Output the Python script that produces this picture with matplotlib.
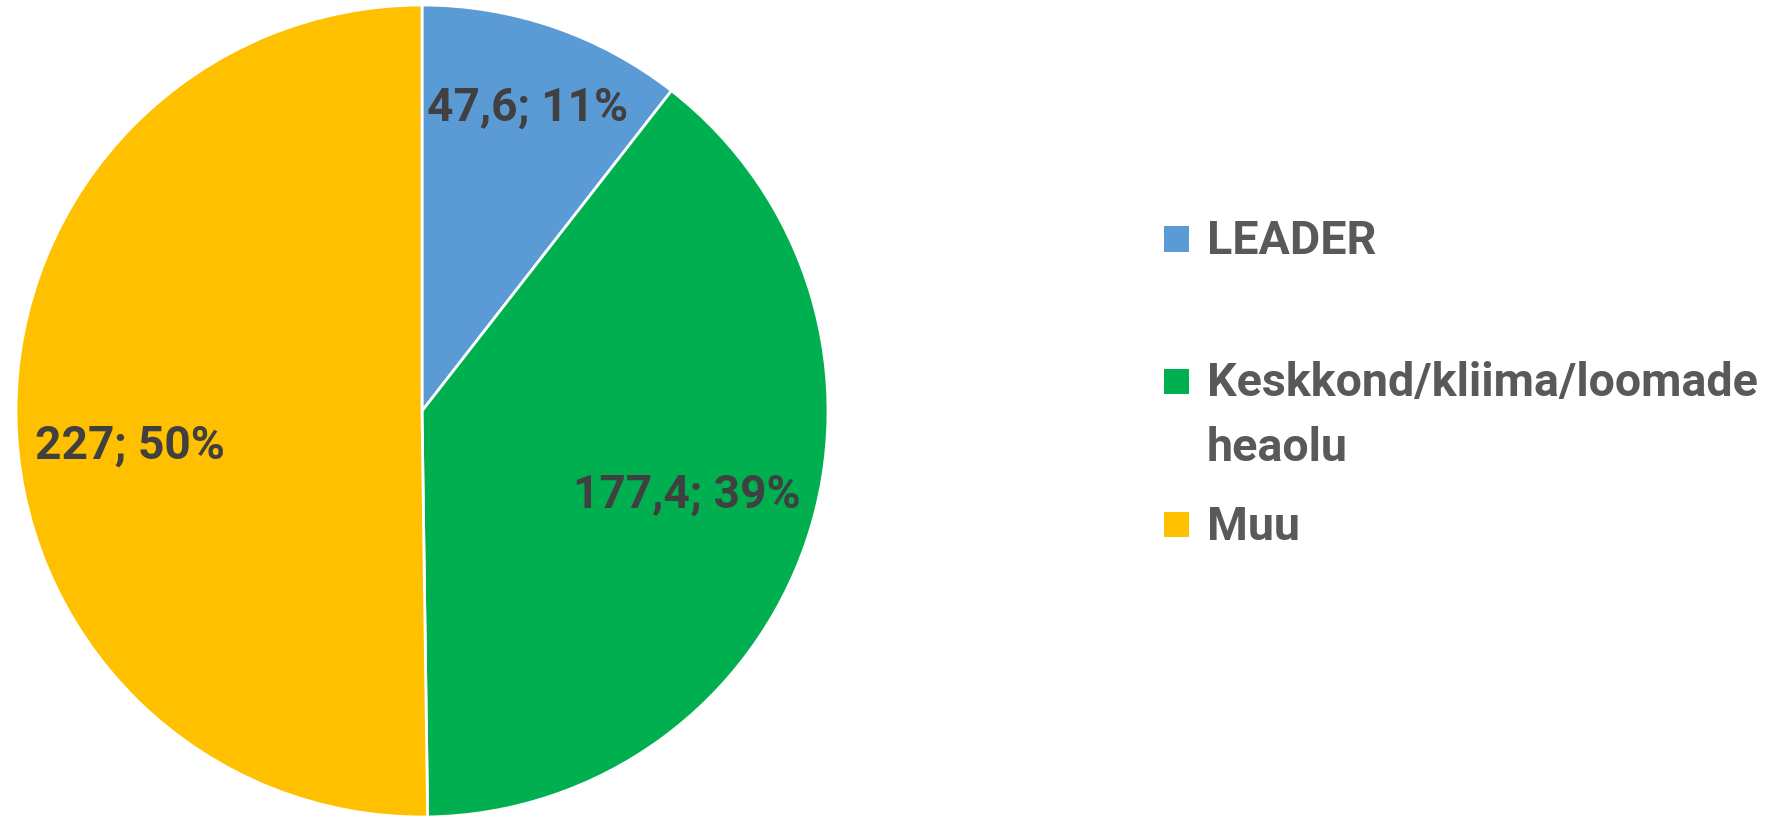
import matplotlib
matplotlib.use("Agg")
import matplotlib.pyplot as plt
from matplotlib.patches import Rectangle

categories = ["LEADER", "Keskkond/kliima/loomade\nheaolu", "Muu"]
values = [47.6, 177.4, 227]
value_labels = ["47,6", "177,4", "227"]
colors = ["#5B9BD5", "#00B050", "#FFC000"]

FAM = "Roboto"
W, H = 1781, 820
fig = plt.figure(figsize=(W / 100, H / 100), dpi=100)
ax = fig.add_axes([16 / W, 2 / H, 812 / W, 812 / H])
wedges, _ = ax.pie(values, colors=colors, startangle=90, counterclock=False,
                   wedgeprops=dict(edgecolor="white", linewidth=2))
ax.set_xlim(-1, 1)
ax.set_ylim(-1, 1)
ax.set_aspect("equal")

renderer = fig.canvas.get_renderer()


def fit_size(text, target_px, base=38):
    t = fig.text(0, 0, text, fontsize=base, fontweight="bold", family=FAM)
    w = t.get_window_extent(renderer).width
    t.remove()
    return base * target_px / w


total = sum(values)
label_texts = [f"{vl}; {round(v / total * 100):.0f}%" for v, vl in zip(values, value_labels)]
label_size = fit_size(label_texts[1], 228)
label_pos = [(0.26, 0.718), (0.653, -0.236), (-0.719, -0.115)]
for (x, y), txt in zip(label_pos, label_texts):
    ax.text(x, y, txt, ha="center", va="baseline",
            fontsize=label_size, fontweight="bold", color="#404040", family=FAM)

# legend (manual, markers aligned with first text line as in the reference)
leg_size = fit_size("Keskkond/kliima/loomade", 551)
baselines = [254, 396, 540]
line_gap = 65
sq_centers = [240, 382, 525]
for cat, c, yb, yc in zip(categories, colors, baselines, sq_centers):
    fig.patches.append(Rectangle((1164 / W, 1 - (yc + 12.5) / H), 25 / W, 25 / H,
                                 transform=fig.transFigure, facecolor=c, edgecolor="none"))
    for i, line in enumerate(cat.split("\n")):
        fig.text(1207 / W, 1 - (yb + i * line_gap) / H, line, ha="left", va="baseline",
                 fontsize=leg_size, fontweight="bold", color="#595959", family=FAM)

fig.savefig("out.png", dpi=100)
